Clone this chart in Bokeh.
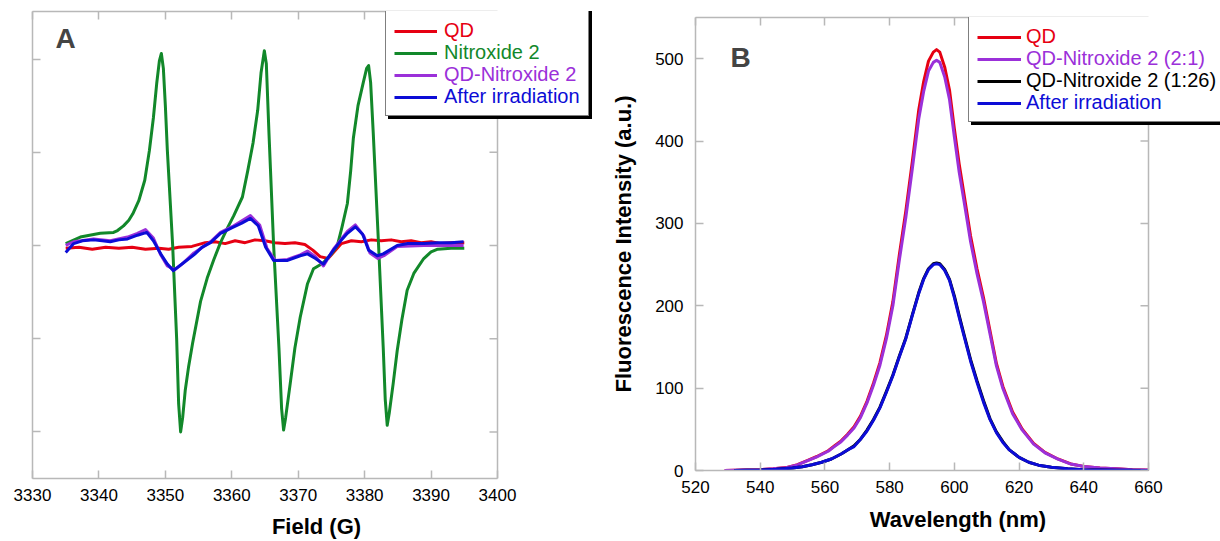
import math
from bokeh.plotting import figure
from bokeh.models import LinearAxis, FixedTicker, Legend, LegendItem, Label, Range1d, Span
from bokeh.layouts import row, column
from bokeh.embed import file_html
from bokeh.resources import INLINE

FONT = "Liberation Sans"
GRAY = "#b8b8b8"

RED = "#e60012"
GREEN = "#12882a"
PURPLE = "#9b30d9"
BLUE = "#0c0cd6"
BLACK = "#000000"

# ---------------- Panel A: EPR spectra ----------------
a_x_ticks = [3330, 3340, 3350, 3360, 3370, 3380, 3390, 3400]
a_y_ticks = [-2, -1, 0, 1, 2]

qd_field = [3335, 3337, 3339, 3341, 3343, 3345, 3347, 3349, 3350.5, 3352, 3354, 3356,
            3357.5, 3359, 3360.5, 3362, 3363.5, 3365, 3366.5, 3368, 3369.5, 3371,
            3372.2, 3373.3, 3374.5, 3375.5, 3376.5, 3378, 3379.5, 3381, 3382.5, 3384,
            3385.5, 3387, 3388.5, 3390, 3391.5, 3393, 3395]
qd_epr = [-0.03, -0.02, -0.04, -0.02, -0.03, -0.02, -0.04, -0.03, -0.04, -0.02, -0.01, 0.03,
          0.04, 0.02, 0.05, 0.03, 0.06, 0.05, 0.03, 0.02, 0.03, 0.01,
          -0.05, -0.12, -0.14, -0.06, 0.02, 0.05, 0.04, 0.06, 0.05, 0.06,
          0.04, 0.05, 0.03, 0.04, 0.02, 0.03, 0.03]

nit_field = [3335, 3337.2, 3340.2, 3342.2, 3342.8, 3343.7, 3344.5, 3345.1, 3346.0, 3346.9,
             3347.6, 3348.2, 3348.7, 3349.1, 3349.4, 3349.7, 3350.0, 3350.3, 3351.1, 3351.7,
             3352.0, 3352.3, 3352.6, 3353.0, 3353.5, 3354.1, 3355.3, 3356.3, 3357.3, 3358.3,
             3359.3, 3360.3, 3361.6, 3362.4, 3363.2, 3363.9, 3364.4, 3364.9, 3365.2, 3365.6,
             3366.3, 3367.1, 3367.5, 3367.8, 3368.1, 3368.8, 3369.5, 3370.3, 3371.4, 3372.3,
             3373.7, 3374.9, 3375.9, 3376.6, 3377.4, 3377.9, 3378.3, 3379.0, 3379.8, 3380.3,
             3380.6, 3380.9, 3381.3, 3382.1, 3382.8, 3383.1, 3383.4, 3383.7, 3384.3, 3384.9,
             3385.6, 3386.4, 3387.4, 3388.9, 3390, 3391, 3393, 3395]
nit_epr = [0.02, 0.09, 0.13, 0.14, 0.16, 0.21, 0.27, 0.34, 0.48, 0.70,
           1.02, 1.37, 1.74, 1.98, 2.06, 1.9, 1.5, 1.02, 0.0, -1.0,
           -1.7, -2.0, -1.85, -1.55, -1.3, -1.05, -0.6, -0.35, -0.15, 0.03,
           0.18, 0.32, 0.52, 0.8, 1.1, 1.45, 1.85, 2.09, 1.95, 1.2,
           0.0, -1.1, -1.75, -1.98, -1.85, -1.48, -1.1, -0.77, -0.41, -0.25,
           -0.19, -0.1, 0.0, 0.2, 0.45, 0.8, 1.15, 1.5, 1.75, 1.9,
           1.93, 1.75, 1.2, 0.0, -1.1, -1.65, -1.93, -1.8, -1.48, -1.13,
           -0.8, -0.48, -0.3, -0.14, -0.07, -0.04, -0.03, -0.03]

qdn_field = [3335, 3336.2, 3339.2, 3341.7, 3344.3, 3345.8, 3347.0, 3348.2, 3349.3, 3350.3,
             3351.4, 3352.5, 3354.3, 3356.8, 3358.3, 3360.3, 3362.8, 3364.2, 3365.3, 3366.5,
             3368.4, 3370.3, 3371.4, 3372.6, 3373.8, 3375.3, 3377.4, 3378.6, 3379.9, 3380.8,
             3382.0, 3382.9, 3384.9, 3388.9, 3394.9]
qdn_epr = [0.0, 0.04, 0.07, 0.05, 0.09, 0.13, 0.17, 0.08, -0.1, -0.22,
           -0.26, -0.2, -0.08, 0.04, 0.14, 0.21, 0.32, 0.22, -0.03, -0.16,
           -0.15, -0.1, -0.06, -0.12, -0.22, -0.04, 0.15, 0.22, 0.1, -0.08,
           -0.14, -0.11, -0.01, 0.0, 0.0]

irr_field = [3335, 3336.2, 3337.5, 3339.2, 3340.5, 3341.7, 3343, 3344.3, 3345.8, 3347.2,
             3348.2, 3349.3, 3350.3, 3351.2, 3352.3, 3354.3, 3355.5, 3356.8, 3358.3, 3360.3,
             3361.5, 3362.8, 3364.0, 3365.1, 3366.3, 3368.4, 3370.3, 3371.4, 3372.6, 3373.8,
             3375.3, 3376.4, 3377.4, 3378.6, 3379.7, 3380.6, 3381.9, 3382.8, 3384.9, 3386.5,
             3388.9, 3391, 3393, 3394.9]
irr_epr = [-0.075, 0.02, 0.05, 0.06, 0.05, 0.04, 0.06, 0.07, 0.11, 0.14,
           0.05, -0.09, -0.2, -0.27, -0.21, -0.1, -0.02, 0.03, 0.13, 0.2,
           0.24, 0.29, 0.21, -0.02, -0.16, -0.16, -0.11, -0.09, -0.14, -0.2,
           -0.05, 0.05, 0.13, 0.2, 0.12, -0.05, -0.11, -0.09, 0.0, 0.02,
           0.02, 0.03, 0.03, 0.04]

a_labels = ["QD", "Nitroxide 2", "QD-Nitroxide 2", "After irradiation"]
a_colors = [RED, GREEN, PURPLE, BLUE]

# ---------------- Panel B: fluorescence ----------------
b_x_ticks = [520, 540, 560, 580, 600, 620, 640, 660]
b_y_ticks = [0, 100, 200, 300, 400, 500]

wl = [529, 535, 540, 544, 548, 551.5, 554.5, 557.5, 561, 563, 565, 567, 569, 571, 573, 575,
      577, 579, 581, 583, 585, 587, 589, 590.5, 592, 593.5, 594.5, 595.5, 597, 598.5, 600,
      601.5, 603, 605, 607, 609, 611, 613, 615, 618, 621, 624.5, 628, 632, 636, 640, 645,
      650, 655, 660]
fl_qd = [0, 0.5, 1, 2, 3.5, 7, 12, 17, 24, 30, 36, 44, 53, 66, 84, 106,
         131, 164, 205, 262, 315, 375, 438, 472, 497, 508, 511, 508, 490, 462, 415,
         372, 335, 285, 245, 210, 170, 130, 102, 71, 50, 33, 22, 14, 8, 5, 3,
         2, 1, 0.5]
fl_qdn21 = [0, 0.5, 1, 2, 3.4, 6.8, 11.7, 16.6, 23.4, 29.3, 35, 43, 51.7, 64.4, 82, 103.4,
            127.8, 160, 200, 255.5, 307, 366, 427, 460, 485, 495.5, 498, 495.5, 478, 450.5, 405,
            362, 326.6, 278, 239, 205, 166, 127, 99.5, 69, 49, 32, 21.5, 13.7, 7.8, 4.9, 2.9,
            2, 1, 0.5]

wl2 = [532, 540, 545, 550, 553, 556, 559, 562, 565, 567, 569, 571, 573, 575, 577, 579, 581,
       583, 585, 587, 589, 590.5, 592, 593.5, 594.5, 595.5, 597, 598.5, 600, 601.5, 603, 605,
       607, 609, 611, 613, 615, 617, 620, 623, 626, 630, 635, 640, 650, 660]
fl_qdn126 = [0, 0.5, 1.5, 3, 4.5, 7, 10, 14, 20, 25, 30, 38, 49, 62, 77, 96, 116,
             139, 161, 189, 216, 233, 245, 251, 252, 251, 244, 232, 212, 188, 165, 135,
             109, 85, 63, 47, 35, 25, 16, 10, 6.5, 4, 2, 1, 0.3, 0]
fl_irr = [0, 0.5, 1.5, 3, 4.5, 7, 10, 14, 20, 25, 29, 38, 48, 61, 76, 95, 115,
          138, 160, 188, 215, 232, 244, 250, 251, 250, 243, 231, 210, 186, 163, 133,
          107, 83, 62, 46, 34, 25, 16, 10, 6.5, 4, 2, 1, 0.3, 0]

b_labels = ["QD", "QD-Nitroxide 2 (2:1)", "QD-Nitroxide 2 (1:26)", "After irradiation"]
b_colors = [RED, PURPLE, BLACK, BLUE]


def style_axis(ax, ticks, labels=True):
    ax.ticker = FixedTicker(ticks=ticks)
    ax.axis_line_color = GRAY
    ax.axis_line_width = 1.5
    ax.major_tick_line_color = GRAY
    ax.major_tick_line_width = 1.5
    ax.major_tick_in = 8
    ax.major_tick_out = 0
    ax.minor_tick_line_color = None
    ax.major_label_text_font = FONT
    ax.major_label_text_color = "black"
    if labels:
        ax.major_label_text_font_size = "17px"
        ax.major_label_standoff = 10
    else:
        ax.major_label_text_font_size = "0px"
        ax.major_label_standoff = 0
    ax.axis_label_text_font = FONT
    ax.axis_label_text_font_style = "bold"
    ax.axis_label_text_font_size = "22px"
    ax.axis_label_text_color = "black"


def make_fig(width, height, xr, yr, bl, bt, bb):
    p = figure(width=width, height=height, x_range=Range1d(*xr), y_range=Range1d(*yr),
               output_backend="svg", toolbar_location=None, title=None,
               min_border_left=bl, min_border_right=0, min_border_top=bt, min_border_bottom=bb)
    p.xgrid.visible = False
    p.ygrid.visible = False
    p.outline_line_color = None
    p.background_fill_color = "white"
    p.border_fill_color = "white"
    return p


def frame_right_side(p, x_ticks, y_ticks):
    # right-hand frame line at the last x tick, with inward tick marks
    p.add_layout(Span(location=x_ticks[-1], dimension="height", line_color=GRAY, line_width=1.5))
    p.ray(x=[x_ticks[-1]] * len(y_ticks), y=y_ticks, length=8, length_units="screen",
          angle=math.pi, line_color=GRAY, line_width=1.5)


ROW_H = 22


def add_legend(p, renderers, labels, colors, x, y, glyph_w, standoff, pad=8):
    base = dict(margin=0, spacing=0, glyph_width=glyph_w, glyph_height=ROW_H,
                label_height=ROW_H, label_standoff=standoff,
                label_text_font=FONT, label_text_font_size="20px")
    # invisible stand-in renderer so the box legends draw no sample lines
    ghost = p.line(x=[], y=[], line_alpha=0)
    shadow = Legend(items=[LegendItem(label=l, renderers=[ghost]) for l in labels],
                    location=(x + 3, y - 3), padding=pad, background_fill_color="black",
                    background_fill_alpha=1.0, border_line_color="black", label_text_alpha=0,
                    **base)
    main = Legend(items=[LegendItem(label=l, renderers=[ghost]) for l in labels],
                  location=(x, y), padding=pad, background_fill_color="white",
                  background_fill_alpha=1.0, border_line_color="black", border_line_width=1,
                  label_text_alpha=0, **base)
    p.add_layout(shadow)
    p.add_layout(main)
    top = y + 2 * pad + 4 * ROW_H
    for i, (l, r, c) in enumerate(zip(labels, renderers, colors)):
        one = Legend(items=[LegendItem(label=l, renderers=[r])],
                     location=(x + pad + 1, top - pad - ROW_H * (i + 1)), padding=0,
                     background_fill_alpha=0, border_line_color=None, label_text_color=c,
                     **base)
        p.add_layout(one)


# Panel A  (frame spans x 32..600, data 3330..3400 occupies 465 px)
a_px_per_unit = 465 / (a_x_ticks[-1] - a_x_ticks[0])
pa = make_fig(600, 541, (a_x_ticks[0], a_x_ticks[0] + 568 / a_px_per_unit), (-2.5, 2.51), 32, 11, 63)
ra = []
for xs, ys, c in zip([qd_field, nit_field, qdn_field, irr_field],
                     [qd_epr, nit_epr, qdn_epr, irr_epr], a_colors):
    ra.append(pa.line(xs, ys, line_color=c, line_width=3, line_join="round"))
style_axis(pa.xaxis[0], a_x_ticks)
pa.xaxis[0].bounds = (a_x_ticks[0], a_x_ticks[-1])
pa.xaxis[0].axis_label = "Field (G)"
pa.xaxis[0].axis_label_standoff = 10
style_axis(pa.yaxis[0], a_y_ticks, labels=False)
ax_top = LinearAxis(bounds=(a_x_ticks[0], a_x_ticks[-1]))
style_axis(ax_top, a_x_ticks, labels=False)
pa.add_layout(ax_top, "above")
frame_right_side(pa, a_x_ticks, a_y_ticks)
add_legend(pa, ra, a_labels, a_colors, 353, 362, 43, 7)
pa.add_layout(Label(x=23, y=440, x_units="screen", y_units="screen", text="A",
                    text_font=FONT, text_font_style="bold", text_font_size="28px",
                    text_baseline="alphabetic"))

# Panel B  (frame spans x 695..1220, data 520..660 occupies 453 px)
b_px_per_unit = 453 / (b_x_ticks[-1] - b_x_ticks[0])
pb = make_fig(620, 541, (b_x_ticks[0], b_x_ticks[0] + 525 / b_px_per_unit), (0, 550), 95, 17, 71)
rb = []
for xs, ys, c in zip([wl, wl, wl2, wl2], [fl_qd, fl_qdn21, fl_qdn126, fl_irr], b_colors):
    rb.append(pb.line(xs, ys, line_color=c, line_width=3, line_join="round"))
style_axis(pb.xaxis[0], b_x_ticks)
pb.xaxis[0].bounds = (b_x_ticks[0], b_x_ticks[-1])
pb.xaxis[0].axis_label = "Wavelength (nm)"
pb.xaxis[0].axis_label_standoff = 11
style_axis(pb.yaxis[0], b_y_ticks)
pb.yaxis[0].axis_label = "Fluorescence Intensity (a.u.)"
pb.yaxis[0].axis_label_standoff = 16
pb.yaxis[0].major_label_standoff = 12
bx_top = LinearAxis(bounds=(b_x_ticks[0], b_x_ticks[-1]))
style_axis(bx_top, b_x_ticks, labels=False)
pb.add_layout(bx_top, "above")
frame_right_side(pb, b_x_ticks, b_y_ticks)
add_legend(pb, rb, b_labels, b_colors, 273, 348, 44, 5)
pb.add_layout(Label(x=35, y=413, x_units="screen", y_units="screen", text="B",
                    text_font=FONT, text_font_style="bold", text_font_size="28px",
                    text_baseline="alphabetic"))

layout = row(column(pa), column(pb), spacing=0)
open("out.html", "w").write(file_html(layout, INLINE))
